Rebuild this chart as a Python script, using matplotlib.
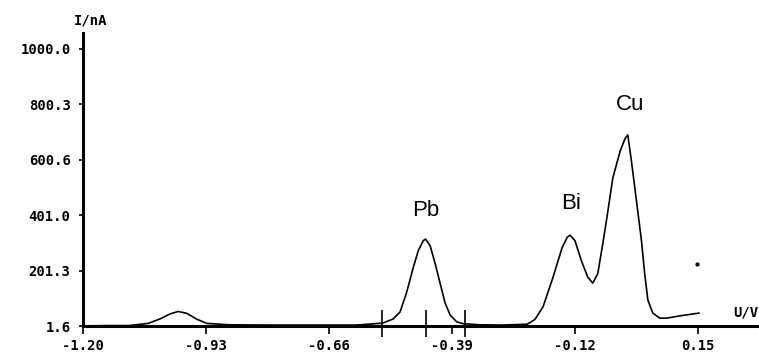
import matplotlib
matplotlib.use("Agg")
import matplotlib.pyplot as plt

# Voltammogram trace (U in V, I in nA)
potential = [-1.200, -1.150, -1.100, -1.057, -1.031, -1.009, -0.991, -0.972, -0.950, -0.928,
             -0.880, -0.800, -0.700, -0.600, -0.542, -0.519, -0.504, -0.490, -0.475, -0.464,
             -0.453, -0.448, -0.438, -0.427, -0.416, -0.405, -0.394, -0.380, -0.366, -0.330,
             -0.280, -0.225, -0.208, -0.190, -0.168, -0.148, -0.137, -0.131, -0.120, -0.106,
             -0.092, -0.081, -0.070, -0.059, -0.050, -0.037, -0.021, -0.010, -0.004, 0.004,
             0.015, 0.026, 0.033, 0.040, 0.051, 0.066, 0.082, 0.110, 0.152]
current = [2, 3, 3, 11, 27, 45, 54, 47, 26, 11,
           6, 5, 5, 5, 12, 27, 52, 120, 212, 273,
           309, 315, 291, 227, 155, 84, 41, 17, 10, 6,
           5, 8, 25, 71, 178, 285, 321, 329, 309, 237,
           178, 156, 190, 297, 391, 534, 631, 677, 690, 595,
           452, 309, 191, 95, 48, 30, 30, 38, 48]

peak_names = ["Pb", "Bi", "Cu"]
peak_label_u = [-0.448, -0.128, 0.000]
peak_label_i = [380, 405, 762]

marker_u = [-0.544, -0.447, -0.362]
stray_dot = (0.148, 225)

y_ticks = [1.6, 201.28, 400.96, 600.64, 800.32, 1000.0]
y_labels = ["1.6", "201.3", "401.0", "600.6", "800.3", "1000.0"]
x_ticks = [-1.20, -0.93, -0.66, -0.39, -0.12, 0.15]
x_labels = ["-1.20", "-0.93", "-0.66", "-0.39", "-0.12", "0.15"]

fig = plt.figure(figsize=(7.59, 3.56), dpi=100)
ax = fig.add_axes([83 / 759, 30 / 356, 1 - 83 / 759, 293 / 356])

ax.plot(potential, current, color="black", lw=1.2, clip_on=False, zorder=3)
ax.vlines(marker_u, -38, 58, color="black", lw=1.2, clip_on=False, zorder=4)
ax.plot([stray_dot[0]], [stray_dot[1]], "o", color="black", ms=2)

ax.set_xlim(-1.20, 0.284)
ax.set_ylim(1.6, 1057)

for s in ["top", "right"]:
    ax.spines[s].set_visible(False)
for s in ["left", "bottom"]:
    ax.spines[s].set_linewidth(2.2)
    ax.spines[s].set_color("black")

mono = dict(family="DejaVu Sans Mono", weight="bold", size=10)
ax.set_yticks(y_ticks)
ax.set_yticklabels(y_labels, fontdict=mono)
ax.set_xticks(x_ticks)
ax.set_xticklabels(x_labels, fontdict=mono)
ax.tick_params(axis="y", length=3, width=1.2, pad=6)
ax.tick_params(axis="x", length=6, width=1.2, pad=3)

for name, u, i in zip(peak_names, peak_label_u, peak_label_i):
    ax.text(u, i, name, family="Liberation Sans", size=16, ha="center", va="bottom")

fig.text(91 / 759, 1 - 20 / 356, "I/nA", ha="center", va="center", **mono)
fig.text(758 / 759, 1 - 312 / 356, "U/V", ha="right", va="center", **mono)

fig.savefig("out.png", dpi=100)
